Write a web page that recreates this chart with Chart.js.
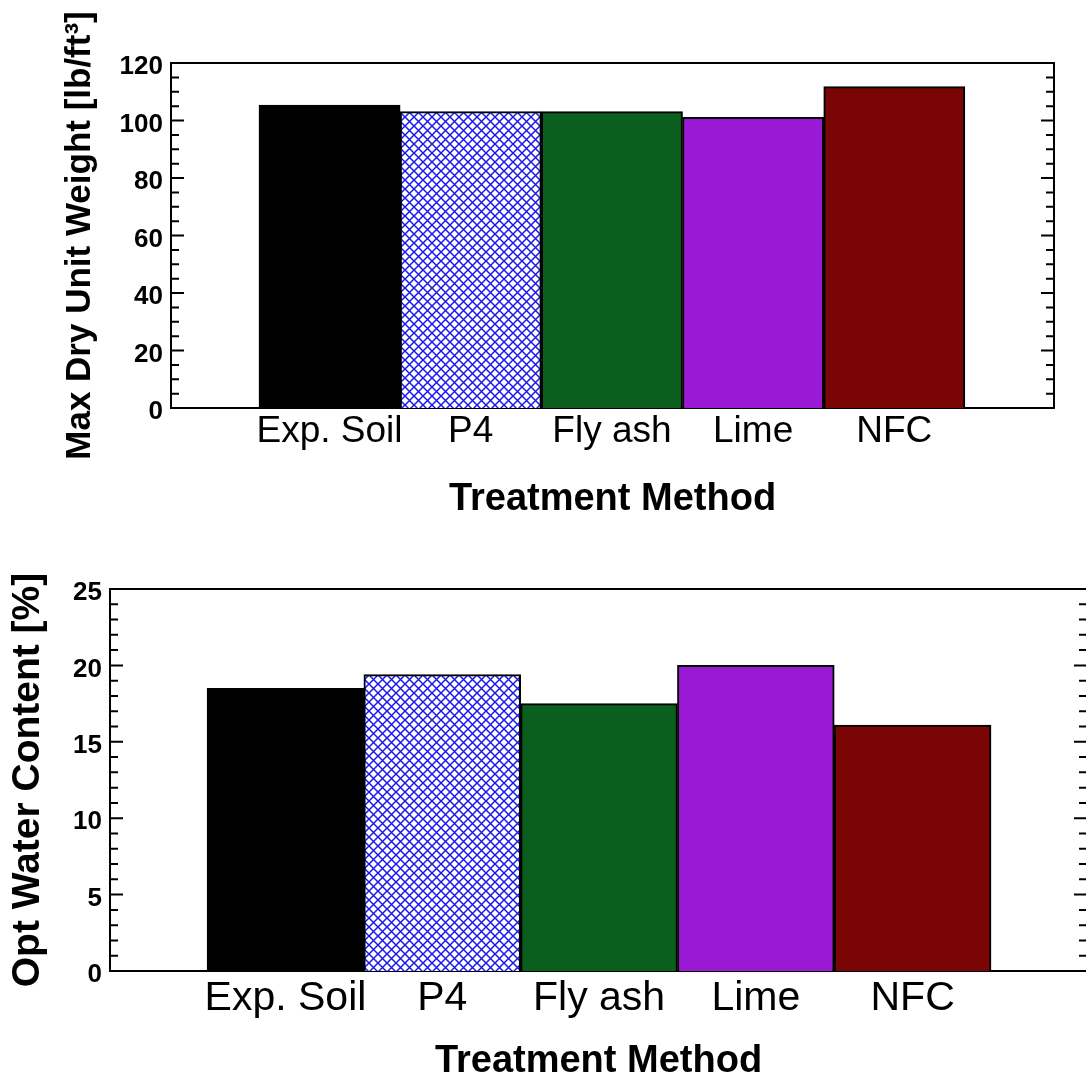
<!DOCTYPE html>
<html><head><meta charset="utf-8">
<script src="https://cdn.jsdelivr.net/npm/chart.js@4.4.1/dist/chart.umd.min.js"></script>
<style>
html,body{margin:0;padding:0;background:#fff;overflow:hidden;width:1086px;height:1075px;}
#wrap{position:relative;width:1086px;height:1075px;overflow:hidden;background:#fff;}
canvas{position:absolute;left:0;}
</style></head><body>
<div id="wrap">
<canvas id="c1" width="1086" height="540" style="top:0;width:1086px;height:540px"></canvas>
<canvas id="c2" width="1092" height="545" style="top:540px;width:1092px;height:545px"></canvas>
</div>
<script>
// ---- data ----
const categories = ['Exp. Soil', 'P4', 'Fly ash', 'Lime', 'NFC'];
const dryUnitWeight = [105.4, 103.1, 103.1, 101.1, 111.8];
const optWaterContent = [18.5, 19.4, 17.5, 20.0, 16.1];
const xTitle = 'Treatment Method';
const yTitleTop = 'Max Dry Unit Weight [lb/ft\u00B3]';
const yTitleBottom = 'Opt Water Content [%]';

const FONT = "'Liberation Sans', Arial, sans-serif";

function hatch() {
  const c = document.createElement('canvas'); c.width = 9; c.height = 9;
  const g = c.getContext('2d');
  g.fillStyle = '#fff'; g.fillRect(0, 0, 9, 9);
  g.strokeStyle = '#1a1ae8'; g.lineWidth = 1.5;
  g.beginPath();
  g.moveTo(-1, -1); g.lineTo(10, 10);
  g.moveTo(10, -1); g.lineTo(-1, 10);
  g.stroke();
  return g.createPattern(c, 'repeat');
}
const barColors = ['#000000', hatch(), '#0a5e1e', '#9a19d4', '#7a0505'];

const framePlugin = {
  id: 'frame',
  afterDraw(chart, args, opts) {
    const {ctx, chartArea: a} = chart;
    const y = chart.scales.y;
    ctx.save();
    ctx.strokeStyle = '#000';
    ctx.lineWidth = 2;
    ctx.beginPath();
    ctx.moveTo(a.left - 1, a.top); ctx.lineTo(a.right + 1, a.top);
    ctx.moveTo(a.right, a.top); ctx.lineTo(a.right, a.bottom);
    ctx.stroke();
    for (let v = y.min; v <= y.max + 1e-9; v += opts.minorStep) {
      const r = v / opts.majorStep;
      const major = Math.abs(r - Math.round(r)) < 1e-6;
      const len = major ? opts.majorLen : opts.minorLen;
      const py = y.getPixelForValue(v);
      ctx.beginPath();
      ctx.moveTo(a.left, py); ctx.lineTo(a.left + len, py);
      ctx.moveTo(a.right, py); ctx.lineTo(a.right - len, py);
      ctx.stroke();
    }
    ctx.restore();
  }
};

function makeChart(id, values, cfg) {
  return new Chart(document.getElementById(id), {
    type: 'bar',
    data: {
      datasets: [{
        data: values.map((v, i) => ({x: i + 1, y: v})),
        backgroundColor: barColors,
        borderColor: '#000',
        borderWidth: 2,
        barPercentage: 1,
        categoryPercentage: 1
      }]
    },
    options: {
      responsive: false,
      animation: false,
      devicePixelRatio: 1,
      layout: {padding: cfg.padding},
      plugins: {
        legend: {display: false},
        tooltip: {enabled: false},
        frame: {minorStep: cfg.minorStep, majorStep: cfg.yStep, majorLen: 13, minorLen: 8}
      },
      scales: {
        x: {
          type: 'linear',
          min: cfg.xMin, max: cfg.xMax,
          offset: false,
          grid: {display: false, drawTicks: false, offset: false},
          border: {display: true, color: '#000', width: 2},
          afterBuildTicks: s => { s.ticks = categories.map((c, i) => ({value: i + 1})); },
          afterFit: s => { s.height = cfg.xHeight; },
          ticks: {
            autoSkip: false, maxRotation: 0, minRotation: 0,
            color: '#000', padding: cfg.xTickPad,
            font: {family: FONT, size: cfg.xTickSize, weight: 'normal'},
            callback: v => categories[Math.round(v) - 1] ?? ''
          },
          title: {
            display: true, text: xTitle, color: '#000',
            font: {family: FONT, size: 38, weight: 'bold'},
            padding: {top: 0, bottom: cfg.xTitlePad}
          }
        },
        y: {
          min: 0, max: cfg.yMax,
          grid: {display: false, drawTicks: false},
          border: {display: true, color: '#000', width: 2},
          afterFit: s => { s.width = cfg.yWidth; },
          ticks: {
            stepSize: cfg.yStep, color: '#000', padding: 8, labelOffset: 4,
            font: {family: FONT, size: 26, weight: 'bold'}
          },
          title: {
            display: true, text: cfg.yTitle, color: '#000',
            font: {family: FONT, size: cfg.yTitleSize, weight: 'bold'},
            padding: {top: cfg.yTitlePad, bottom: 0}
          }
        }
      }
    },
    plugins: [framePlugin]
  });
}

makeChart('c1', dryUnitWeight, {
  padding: {top: 63, right: 32, left: 0, bottom: 0},
  xMin: -0.123, xMax: 6.131,
  xHeight: 132, xTickPad: 2, xTickSize: 37, xTitlePad: 18,
  yMax: 120, yStep: 20, minorStep: 5, yWidth: 171,
  yTitle: yTitleTop, yTitleSize: 35, yTitlePad: 59
});

makeChart('c2', optWaterContent, {
  padding: {top: 49, right: 5, left: 0, bottom: 0},
  xMin: -0.119, xMax: 6.112,
  xHeight: 114, xTickPad: 3, xTickSize: 41, xTitlePad: 1,
  yMax: 25, yStep: 5, minorStep: 1, yWidth: 110,
  yTitle: yTitleBottom, yTitleSize: 39, yTitlePad: 5
});
</script>
</body></html>
